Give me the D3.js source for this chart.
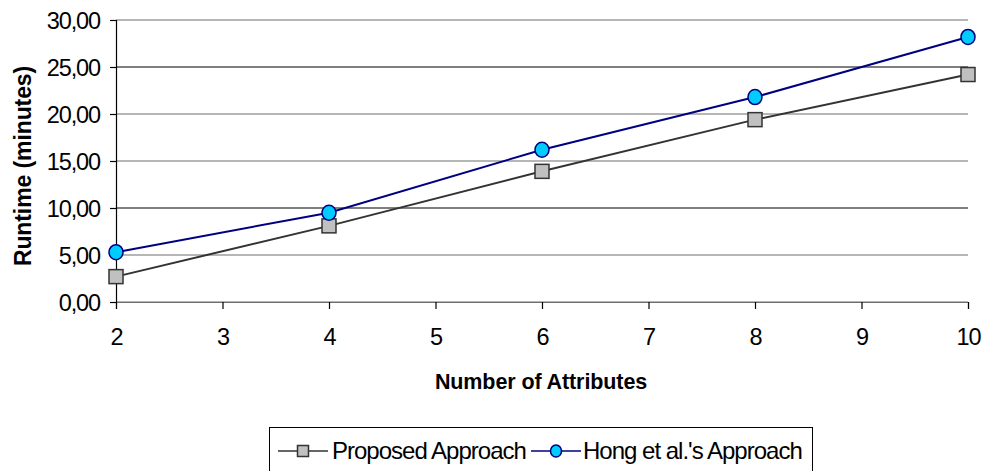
<!DOCTYPE html>
<html>
<head>
<meta charset="utf-8">
<script src="https://cdn.jsdelivr.net/npm/d3@7"></script>
<style>
  html, body { margin: 0; padding: 0; background: #fff; }
  svg { display: block; font-family: "Liberation Sans", Arial, sans-serif; }
</style>
</head>
<body>
<svg id="chart" width="988" height="471"></svg>
<script>
// Runtime measurements per number of attributes
const attributes = [2, 4, 6, 8, 10];
const proposedRuntime = [2.7, 8.1, 13.9, 19.4, 24.2];
const hongRuntime = [5.3, 9.5, 16.2, 21.8, 28.2];
const seriesNames = ["Proposed Approach", "Hong et al.'s Approach"];
const yTicks = [0, 5, 10, 15, 20, 25, 30];
const xTicks = [2, 3, 4, 5, 6, 7, 8, 9, 10];

const svg = d3.select("#chart");
const plot = { left: 116, right: 968, top: 20, bottom: 302 };

const x = d3.scaleLinear().domain([2, 10]).range([plot.left, plot.right]);
const y = d3.scaleLinear().domain([0, 30]).range([plot.bottom, plot.top]);
const fmt = v => d3.format(".2f")(v).replace(".", ",");

// horizontal gridlines
svg.append("g").selectAll("line")
  .data(yTicks)
  .join("line")
  .attr("x1", plot.left).attr("x2", plot.right)
  .attr("y1", d => y(d)).attr("y2", d => y(d))
  .attr("stroke", d => (d === 25 || d === 10) ? "#000" : "#6e6e6e")
  .attr("stroke-width", 1.2);

// y axis
const yAxis = svg.append("g")
  .attr("transform", `translate(${plot.left},0)`)
  .call(d3.axisLeft(y).tickValues(yTicks).tickFormat(fmt).tickSizeOuter(0).tickSize(6).tickPadding(10));
yAxis.select(".domain").attr("stroke", "#000").attr("stroke-width", 1.2);
yAxis.selectAll(".tick line").attr("stroke", "#000").attr("stroke-width", 1.2);
yAxis.selectAll(".tick text").attr("font-size", 23.5).attr("fill", "#000")
  .attr("font-family", "'Liberation Sans', Arial, sans-serif").attr("letter-spacing", -1.1)
  .attr("dy", "0.34em");

// x axis
const xAxis = svg.append("g")
  .attr("transform", `translate(0,${plot.bottom})`)
  .call(d3.axisBottom(x).tickValues(xTicks).tickFormat(d3.format("d")).tickSizeOuter(0).tickSize(7).tickPadding(19));
xAxis.select(".domain").attr("stroke", "#6e6e6e").attr("stroke-width", 1.2);
xAxis.selectAll(".tick line").attr("stroke", "#000").attr("stroke-width", 1.2);
xAxis.selectAll(".tick text").attr("font-size", 23.5).attr("fill", "#000")
  .attr("font-family", "'Liberation Sans', Arial, sans-serif").attr("letter-spacing", -1.1);

// axis titles
svg.append("text")
  .attr("x", 541).attr("y", 389)
  .attr("text-anchor", "middle")
  .attr("font-size", 21.5).attr("font-weight", "bold").attr("letter-spacing", -0.1)
  .text("Number of Attributes");

svg.append("text")
  .attr("transform", "translate(31,166) rotate(-90)")
  .attr("text-anchor", "middle")
  .attr("font-size", 23).attr("font-weight", "bold").attr("letter-spacing", -0.1)
  .text("Runtime (minutes)");

// series
const series = [
  { name: seriesNames[0], values: proposedRuntime, line: "#333333", fill: "#c0c0c0", stroke: "#333333", shape: "square" },
  { name: seriesNames[1], values: hongRuntime, line: "#000080", fill: "#00ccff", stroke: "#000080", shape: "circle" }
];

const lineGen = d3.line().x(d => x(d[0])).y(d => y(d[1]));

function drawMarker(g, s, cx, cy, size) {
  const h = size / 2;
  if (s.shape === "square") {
    g.append("rect")
      .attr("x", cx - h).attr("y", cy - h).attr("width", size).attr("height", size)
      .attr("fill", s.fill).attr("stroke", s.stroke).attr("stroke-width", 1.5);
  } else {
    g.append("ellipse")
      .attr("cx", cx).attr("cy", cy).attr("rx", h).attr("ry", h + 0.5)
      .attr("fill", s.fill).attr("stroke", s.stroke).attr("stroke-width", 1.5);
  }
}

series.forEach(s => {
  const pts = attributes.map((a, i) => [a, s.values[i]]);
  svg.append("path")
    .attr("d", lineGen(pts))
    .attr("fill", "none").attr("stroke", s.line).attr("stroke-width", 2);
  const g = svg.append("g");
  pts.forEach(p => drawMarker(g, s, x(p[0]), y(p[1]), 14));
});

// legend
const legend = svg.append("g");
legend.append("rect")
  .attr("x", 269.5).attr("y", 427.5).attr("width", 543).attr("height", 50)
  .attr("fill", "#fff").attr("stroke", "#000").attr("stroke-width", 1);

const legendItems = [
  { s: series[0], x0: 278, tx: 332 },
  { s: series[1], x0: 531, tx: 583 }
];
const legendY = 451;
legendItems.forEach(it => {
  const g = legend.append("g");
  g.append("line")
    .attr("x1", it.x0).attr("x2", it.x0 + 50)
    .attr("y1", legendY).attr("y2", legendY)
    .attr("stroke", it.s.line).attr("stroke-width", 1.5);
  drawMarker(g, it.s, it.x0 + 25, legendY, 11);
  g.append("text")
    .attr("x", it.tx).attr("y", legendY + 8)
    .attr("font-size", 24).attr("letter-spacing", -1.0)
    .text(it.s.name);
});
</script>
</body>
</html>
